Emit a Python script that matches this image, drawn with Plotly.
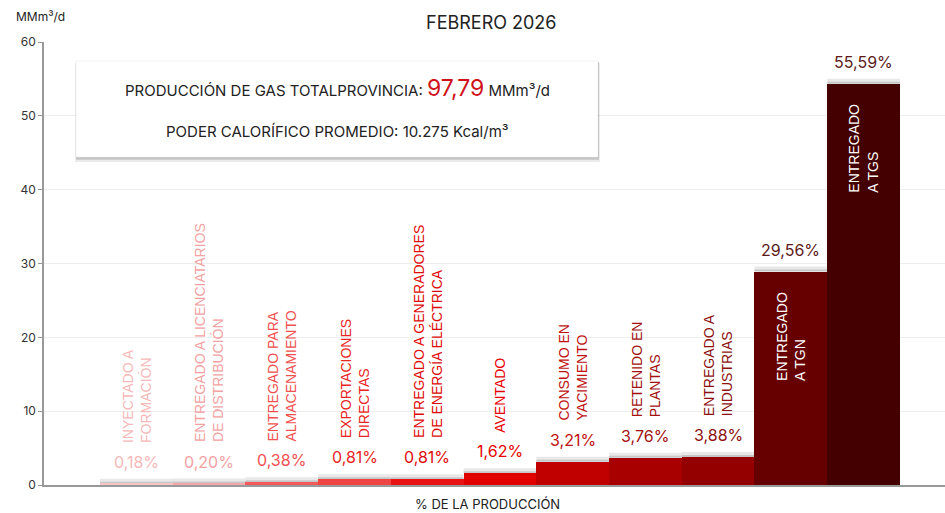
import plotly.graph_objects as go

categories = ["INYECTADO A FORMACIÓN", "ENTREGADO A LICENCIATARIOS DE DISTRIBUCIÓN",
              "ENTREGADO PARA ALMACENAMIENTO", "EXPORTACIONES DIRECTAS",
              "ENTREGADO A GENERADORES DE ENERGÍA ELÉCTRICA", "AVENTADO",
              "CONSUMO EN YACIMIENTO", "RETENIDO EN PLANTAS", "ENTREGADO A INDUSTRIAS",
              "ENTREGADO A TGN", "ENTREGADO A TGS"]
label_lines = ["INYECTADO A<br>FORMACIÓN", "ENTREGADO A LICENCIATARIOS<br>DE DISTRIBUCIÓN",
               "ENTREGADO PARA<br>ALMACENAMIENTO", "EXPORTACIONES<br>DIRECTAS",
               "ENTREGADO A GENERADORES<br>DE ENERGÍA ELÉCTRICA", "AVENTADO",
               "CONSUMO EN<br>YACIMIENTO", "RETENIDO EN<br>PLANTAS", "ENTREGADO A<br>INDUSTRIAS",
               "ENTREGADO<br>A TGN", "ENTREGADO<br>A TGS"]
values = [0.18, 0.20, 0.37, 0.79, 0.79, 1.58, 3.14, 3.68, 3.79, 28.91, 54.36]
pct_labels = ["0,18%", "0,20%", "0,38%", "0,81%", "0,81%", "1,62%", "3,21%", "3,76%", "3,88%",
              "29,56%", "55,59%"]
bar_colors = ["#f6c4c4", "#f3a9a9", "#f05a5a", "#ef4444", "#e81414", "#e00000", "#c00000",
              "#a80000", "#940000", "#660000", "#440000"]
text_colors = ["#f6b8b8", "#f2a2a2", "#f05050", "#e92424", "#e00a0a", "#e60000", "#c01010",
               "#a31010", "#8c1010", "#5c1a1a", "#5c1a1a"]
inside_bar = [False] * 9 + [True, True]
yticks = [0, 10, 20, 30, 40, 50, 60]
total_prod = "97,79"
poder = "10.275"

SANS = "Inter, Lato, sans-serif"
NARROW = "Liberation Sans Narrow, Liberation Sans, Arial, sans-serif"

fig = go.Figure()
fig.add_trace(go.Bar(x=categories, y=values, marker=dict(color=bar_colors, line=dict(width=0)),
                     width=1, hoverinfo="skip", showlegend=False))

annotations = []
shapes = []
for i, (c, v) in enumerate(zip(categories, values)):
    annotations.append(dict(x=c, y=v, xref="x", yref="y", text=pct_labels[i], showarrow=False,
                            yanchor="bottom", yshift=10,
                            font=dict(family=SANS, size=16, color=text_colors[i])))
    if inside_bar[i]:
        annotations.append(dict(x=c, y=v, xref="x", yref="y", text=label_lines[i], showarrow=False,
                                textangle=-90, yanchor="top", yshift=-18, align="left",
                                font=dict(family=NARROW, size=14, color="white")))
    else:
        annotations.append(dict(x=c, y=v, xref="x", yref="y", text=label_lines[i], showarrow=False,
                                textangle=-90, yanchor="bottom", yshift=39, align="left",
                                font=dict(family=NARROW, size=14, color=text_colors[i])))
    # soft shadow strip above bars
    shapes.append(dict(type="rect", xref="x", yref="y", x0=i - 0.5, x1=i + 0.5,
                       ysizemode="pixel", yanchor=v, y0=0, y1=2,
                       fillcolor="rgba(0,0,0,0.22)", line=dict(width=0), layer="below"))
    shapes.append(dict(type="rect", xref="x", yref="y", x0=i - 0.5, x1=i + 0.5,
                       ysizemode="pixel", yanchor=v, y0=2, y1=5,
                       fillcolor="rgba(0,0,0,0.09)", line=dict(width=0), layer="below"))

# info box with shadow
bx0, bx1, by0, by1 = 0.0355, 0.615, 0.740, 0.957
shapes.append(dict(type="rect", xref="paper", yref="paper", x0=bx0 - 0.001, x1=bx1 + 0.002,
                   y0=by0 - 0.011, y1=by1 - 0.004, fillcolor="rgba(0,0,0,0.08)", line=dict(width=0)))
shapes.append(dict(type="rect", xref="paper", yref="paper", x0=bx0, x1=bx1 + 0.001,
                   y0=by0 - 0.006, y1=by1 - 0.002, fillcolor="rgba(0,0,0,0.16)", line=dict(width=0)))
shapes.append(dict(type="rect", xref="paper", yref="paper", x0=bx0, x1=bx1,
                   y0=by0, y1=by1, fillcolor="white", line=dict(width=1, color="rgba(0,0,0,0.05)")))

annotations.append(dict(xref="paper", yref="paper", x=(337 - 44) / 901, y=(485 - 88) / 443,
                        showarrow=False, xanchor="center", yanchor="middle",
                        text=("PRODUCCIÓN DE GAS TOTALPROVINCIA: "
                              f"<span style='font-size:23px;color:#d0121b'>{total_prod}</span> MMm³/d"),
                        font=dict(family=SANS, size=15, color="#222")))
annotations.append(dict(xref="paper", yref="paper", x=(337 - 44) / 901, y=(485 - 131) / 443,
                        showarrow=False, xanchor="center", yanchor="middle",
                        text=f"PODER CALORÍFICO PROMEDIO: {poder} Kcal/m³",
                        font=dict(family=SANS, size=15, color="#222")))
# titles
annotations.append(dict(xref="paper", yref="paper", x=(491 - 44) / 901, y=(485 - 22) / 443,
                        showarrow=False, xanchor="center", yanchor="middle", text="FEBRERO 2026",
                        font=dict(family=SANS, size=18, color="#222")))
annotations.append(dict(xref="paper", yref="paper", x=(14 - 44) / 901, y=(485 - 17) / 443,
                        showarrow=False, xanchor="left", yanchor="middle", text="MMm³/d",
                        font=dict(family=SANS, size=12, color="#222")))
annotations.append(dict(xref="paper", yref="paper", x=(487 - 44) / 901, y=(485 - 504) / 443,
                        showarrow=False, xanchor="center", yanchor="middle", text="% DE LA PRODUCCIÓN",
                        font=dict(family=SANS, size=13, color="#222")))

fig.update_layout(
    width=945, height=513,
    margin=dict(l=44, r=0, t=42, b=28),
    plot_bgcolor="white", paper_bgcolor="white",
    bargap=0,
    xaxis=dict(range=[-1.27, 11.12], showticklabels=False, ticks="", showgrid=False,
               showline=True, linecolor="#999", linewidth=1.5, zeroline=False, fixedrange=True),
    yaxis=dict(range=[0, 60], tickvals=yticks, ticks="outside", ticklen=4, tickcolor="#999",
               showline=True, linecolor="#999", linewidth=1.5, gridcolor="#eeeeee", zeroline=False,
               tickfont=dict(family=SANS, size=12, color="#333")),
    annotations=annotations, shapes=shapes,
)
fig.write_html("out.html", config={"displayModeBar": False},
               post_script="document.body.style.margin='0';document.body.style.overflow='hidden';")
